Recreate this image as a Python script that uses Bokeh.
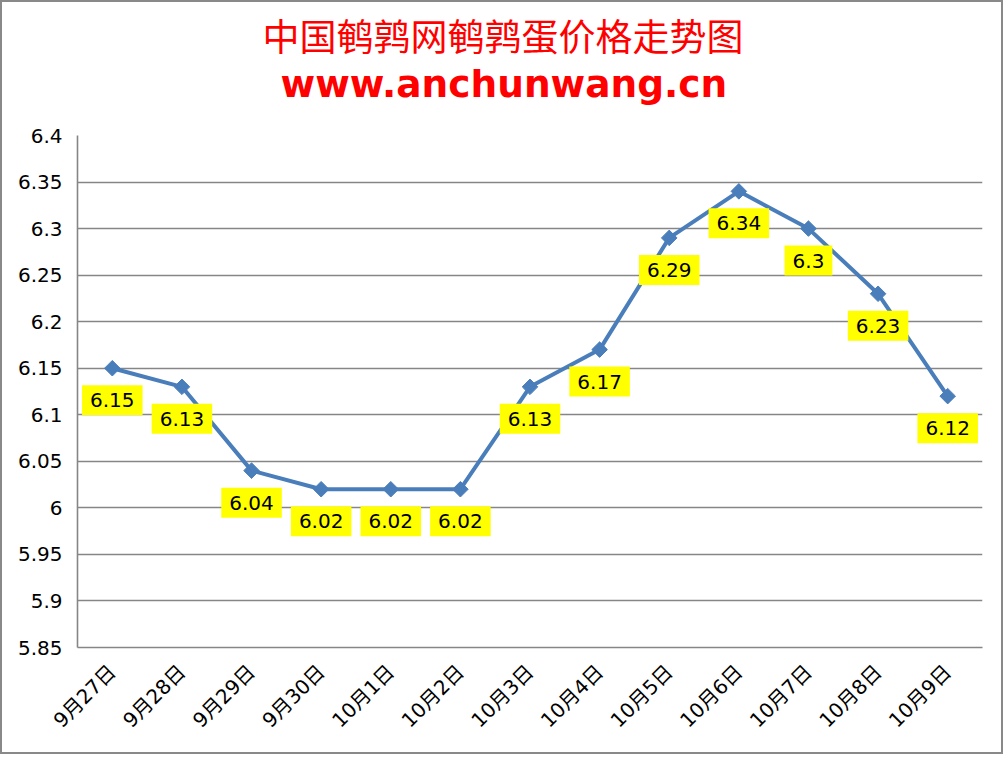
import math
from bokeh.plotting import figure
from bokeh.models import FixedTicker, Label, Range1d, FactorRange, Title
from bokeh.embed import file_html
from bokeh.resources import INLINE

dates = ["9月27日", "9月28日", "9月29日", "9月30日", "10月1日", "10月2日", "10月3日",
         "10月4日", "10月5日", "10月6日", "10月7日", "10月8日", "10月9日"]
prices = [6.15, 6.13, 6.04, 6.02, 6.02, 6.02, 6.13, 6.17, 6.29, 6.34, 6.3, 6.23, 6.12]
y_ticks = [5.85, 5.9, 5.95, 6.0, 6.05, 6.1, 6.15, 6.2, 6.25, 6.3, 6.35, 6.4]
y_tick_labels = ["5.85", "5.9", "5.95", "6", "6.05", "6.1", "6.15", "6.2", "6.25", "6.3", "6.35", "6.4"]
title_cn = "中国鹌鹑网鹌鹑蛋价格走势图"
title_url = "www.anchunwang.cn"

GRID = "#868686"
LINE = "#4A7EBB"
FONT = "DejaVu Sans, Noto Sans CJK SC"

p = figure(width=1003, height=754, title=None,
           x_range=FactorRange(factors=dates, range_padding=0),
           y_range=Range1d(5.85, 6.4), output_backend="svg", toolbar_location=None,
           min_border_left=75, min_border_right=23, min_border_top=133, min_border_bottom=109,
           styles={"border": "2px solid #898989"})
p.outline_line_color = None
p.background_fill_color = "white"
p.border_fill_color = "white"

p.xgrid.grid_line_color = None
p.ygrid.grid_line_color = GRID
p.ygrid.grid_line_width = 1.6

p.yaxis.ticker = FixedTicker(ticks=y_ticks)
p.yaxis.major_label_overrides = {t: l for t, l in zip(y_ticks, y_tick_labels)}
for ax in (p.xaxis, p.yaxis):
    ax.axis_line_color = GRID
    ax.axis_line_width = 1.6
    ax.major_tick_line_color = None
    ax.minor_tick_line_color = None
    ax.major_tick_out = 0
    ax.major_tick_in = 0
    ax.major_label_text_font = FONT
    ax.major_label_text_font_size = "20px"
    ax.major_label_text_color = "black"
p.yaxis.major_label_standoff = 15
p.xaxis.major_label_orientation = math.pi / 4
p.xaxis.major_label_standoff = 21

p.line(dates, prices, line_color=LINE, line_width=4)
p.scatter(dates, prices, marker="square", size=11, angle=math.pi / 4,
          fill_color=LINE, line_color=LINE)

# factor i of the categorical range is centred at synthetic coordinate i + 0.5
for i, v in enumerate(prices):
    p.add_layout(Label(x=i + 0.5, y=v, y_offset=-32, text=f"{v:g}", text_align="center",
                       text_baseline="middle", text_font=FONT, text_font_size="20px",
                       text_color="black", background_fill_color="#FFFF00",
                       padding=dict(left=8, right=8, top=8, bottom=8)))

# spacer between the plot frame and the two title lines
p.add_layout(Title(text=" ", standoff=27, text_font_size="1px"), "above")
p.add_layout(Title(text=title_url, align="left", offset=203, standoff=0,
                   text_font="DejaVu Sans", text_font_style="bold",
                   text_font_size="37.5px", text_color="#FF0000"), "above")
p.add_layout(Title(text=title_cn, align="left", offset=185, standoff=0,
                   text_font=FONT, text_font_style="normal",
                   text_font_size="37px", text_color="#FF0000"), "above")

open("out.html", "w").write(file_html(p, INLINE))
